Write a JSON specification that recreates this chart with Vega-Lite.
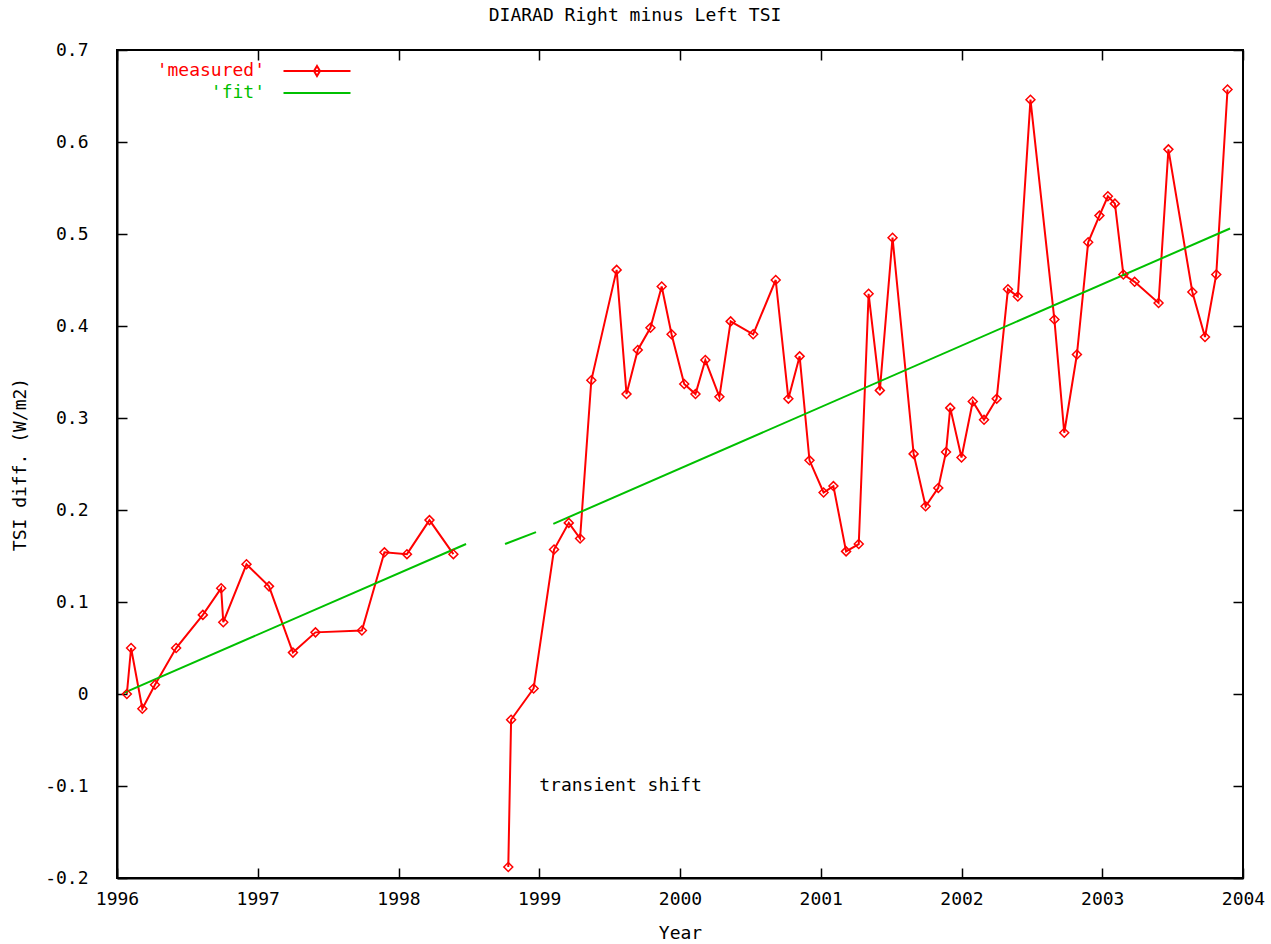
{
  "$schema": "https://vega.github.io/schema/vega-lite/v6.json",
  "width": 1126,
  "height": 828,
  "autosize": {"type": "none"},
  "padding": {"left": 117, "top": 50, "right": 28, "bottom": 66},
  "background": "white",
  "title": {"text": "DIARAD Right minus Left TSI", "font": "DejaVu Sans Mono", "fontSize": 18, "fontWeight": "normal", "color": "black", "anchor": "middle", "dx": -45, "offset": 16},
  "config": {
    "view": {"stroke": "black", "strokeWidth": 2},
    "axis": {"labelFont": "DejaVu Sans Mono", "labelFontSize": 18, "labelColor": "black", "titleFont": "DejaVu Sans Mono", "titleFontSize": 18, "titleFontWeight": "normal", "titleColor": "black", "domainColor": "black", "domainWidth": 2, "tickColor": "black", "tickWidth": 1.5, "grid": false}
  },
  "datasets": {
    "main": [
      {"year": 1996.07, "value": 0.000, "series": "'measured'", "seg": "m1"},
      {"year": 1996.10, "value": 0.050, "series": "'measured'", "seg": "m1"},
      {"year": 1996.18, "value": -0.016, "series": "'measured'", "seg": "m1"},
      {"year": 1996.27, "value": 0.010, "series": "'measured'", "seg": "m1"},
      {"year": 1996.42, "value": 0.050, "series": "'measured'", "seg": "m1"},
      {"year": 1996.61, "value": 0.086, "series": "'measured'", "seg": "m1"},
      {"year": 1996.74, "value": 0.115, "series": "'measured'", "seg": "m1"},
      {"year": 1996.755, "value": 0.078, "series": "'measured'", "seg": "m1"},
      {"year": 1996.92, "value": 0.141, "series": "'measured'", "seg": "m1"},
      {"year": 1997.08, "value": 0.117, "series": "'measured'", "seg": "m1"},
      {"year": 1997.25, "value": 0.045, "series": "'measured'", "seg": "m1"},
      {"year": 1997.41, "value": 0.067, "series": "'measured'", "seg": "m1"},
      {"year": 1997.74, "value": 0.069, "series": "'measured'", "seg": "m1"},
      {"year": 1997.90, "value": 0.154, "series": "'measured'", "seg": "m1"},
      {"year": 1998.06, "value": 0.152, "series": "'measured'", "seg": "m1"},
      {"year": 1998.22, "value": 0.189, "series": "'measured'", "seg": "m1"},
      {"year": 1998.39, "value": 0.152, "series": "'measured'", "seg": "m1"},
      {"year": 1998.78, "value": -0.188, "series": "'measured'", "seg": "m2"},
      {"year": 1998.80, "value": -0.028, "series": "'measured'", "seg": "m2"},
      {"year": 1998.96, "value": 0.006, "series": "'measured'", "seg": "m2"},
      {"year": 1999.105, "value": 0.157, "series": "'measured'", "seg": "m2"},
      {"year": 1999.21, "value": 0.186, "series": "'measured'", "seg": "m2"},
      {"year": 1999.29, "value": 0.169, "series": "'measured'", "seg": "m2"},
      {"year": 1999.37, "value": 0.341, "series": "'measured'", "seg": "m2"},
      {"year": 1999.55, "value": 0.461, "series": "'measured'", "seg": "m2"},
      {"year": 1999.62, "value": 0.326, "series": "'measured'", "seg": "m2"},
      {"year": 1999.70, "value": 0.374, "series": "'measured'", "seg": "m2"},
      {"year": 1999.79, "value": 0.398, "series": "'measured'", "seg": "m2"},
      {"year": 1999.87, "value": 0.443, "series": "'measured'", "seg": "m2"},
      {"year": 1999.94, "value": 0.391, "series": "'measured'", "seg": "m2"},
      {"year": 2000.03, "value": 0.337, "series": "'measured'", "seg": "m2"},
      {"year": 2000.11, "value": 0.326, "series": "'measured'", "seg": "m2"},
      {"year": 2000.18, "value": 0.363, "series": "'measured'", "seg": "m2"},
      {"year": 2000.28, "value": 0.323, "series": "'measured'", "seg": "m2"},
      {"year": 2000.36, "value": 0.405, "series": "'measured'", "seg": "m2"},
      {"year": 2000.52, "value": 0.391, "series": "'measured'", "seg": "m2"},
      {"year": 2000.68, "value": 0.450, "series": "'measured'", "seg": "m2"},
      {"year": 2000.77, "value": 0.321, "series": "'measured'", "seg": "m2"},
      {"year": 2000.85, "value": 0.367, "series": "'measured'", "seg": "m2"},
      {"year": 2000.92, "value": 0.254, "series": "'measured'", "seg": "m2"},
      {"year": 2001.02, "value": 0.219, "series": "'measured'", "seg": "m2"},
      {"year": 2001.09, "value": 0.226, "series": "'measured'", "seg": "m2"},
      {"year": 2001.18, "value": 0.155, "series": "'measured'", "seg": "m2"},
      {"year": 2001.27, "value": 0.163, "series": "'measured'", "seg": "m2"},
      {"year": 2001.34, "value": 0.435, "series": "'measured'", "seg": "m2"},
      {"year": 2001.42, "value": 0.330, "series": "'measured'", "seg": "m2"},
      {"year": 2001.51, "value": 0.496, "series": "'measured'", "seg": "m2"},
      {"year": 2001.66, "value": 0.261, "series": "'measured'", "seg": "m2"},
      {"year": 2001.745, "value": 0.204, "series": "'measured'", "seg": "m2"},
      {"year": 2001.835, "value": 0.224, "series": "'measured'", "seg": "m2"},
      {"year": 2001.89, "value": 0.263, "series": "'measured'", "seg": "m2"},
      {"year": 2001.92, "value": 0.311, "series": "'measured'", "seg": "m2"},
      {"year": 2002.00, "value": 0.257, "series": "'measured'", "seg": "m2"},
      {"year": 2002.08, "value": 0.318, "series": "'measured'", "seg": "m2"},
      {"year": 2002.16, "value": 0.298, "series": "'measured'", "seg": "m2"},
      {"year": 2002.25, "value": 0.321, "series": "'measured'", "seg": "m2"},
      {"year": 2002.33, "value": 0.440, "series": "'measured'", "seg": "m2"},
      {"year": 2002.40, "value": 0.432, "series": "'measured'", "seg": "m2"},
      {"year": 2002.49, "value": 0.646, "series": "'measured'", "seg": "m2"},
      {"year": 2002.66, "value": 0.407, "series": "'measured'", "seg": "m2"},
      {"year": 2002.73, "value": 0.284, "series": "'measured'", "seg": "m2"},
      {"year": 2002.82, "value": 0.369, "series": "'measured'", "seg": "m2"},
      {"year": 2002.90, "value": 0.491, "series": "'measured'", "seg": "m2"},
      {"year": 2002.98, "value": 0.520, "series": "'measured'", "seg": "m2"},
      {"year": 2003.04, "value": 0.541, "series": "'measured'", "seg": "m2"},
      {"year": 2003.09, "value": 0.533, "series": "'measured'", "seg": "m2"},
      {"year": 2003.15, "value": 0.456, "series": "'measured'", "seg": "m2"},
      {"year": 2003.23, "value": 0.448, "series": "'measured'", "seg": "m2"},
      {"year": 2003.40, "value": 0.425, "series": "'measured'", "seg": "m2"},
      {"year": 2003.47, "value": 0.592, "series": "'measured'", "seg": "m2"},
      {"year": 2003.64, "value": 0.437, "series": "'measured'", "seg": "m2"},
      {"year": 2003.73, "value": 0.388, "series": "'measured'", "seg": "m2"},
      {"year": 2003.81, "value": 0.456, "series": "'measured'", "seg": "m2"},
      {"year": 2003.89, "value": 0.657, "series": "'measured'", "seg": "m2"},
      {"year": 1996.045, "value": 0.001, "series": "'fit'", "seg": "f1"},
      {"year": 1998.48, "value": 0.163, "series": "'fit'", "seg": "f1"},
      {"year": 1998.757, "value": 0.163, "series": "'fit'", "seg": "f2"},
      {"year": 1998.977, "value": 0.176, "series": "'fit'", "seg": "f2"},
      {"year": 1999.10, "value": 0.185, "series": "'fit'", "seg": "f3"},
      {"year": 2003.908, "value": 0.506, "series": "'fit'", "seg": "f3"}
    ],
    "notes": [
      {"year": 1999.0, "value": -0.1, "label": "transient shift"}
    ]
  },
  "resolve": {"axis": {"x": "independent", "y": "independent"}},
  "layer": [
    {
      "data": {"name": "main"},
      "mark": {"type": "line", "strokeWidth": 2, "clip": true},
      "encoding": {
        "x": {"field": "year", "type": "quantitative", "scale": {"domain": [1996, 2004], "nice": false, "zero": false},
          "axis": {"orient": "bottom", "title": "Year", "values": [1996, 1997, 1998, 1999, 2000, 2001, 2002, 2003, 2004], "format": "d", "ticks": false, "labelPadding": 12, "titleX": 563, "titleY": 55, "titleBaseline": "middle", "labelFlush": false}},
        "y": {"field": "value", "type": "quantitative", "scale": {"domain": [-0.2, 0.7], "nice": false, "zero": false},
          "axis": {"orient": "left", "title": "TSI diff. (W/m2)", "values": [-0.2, -0.1, 0, 0.1, 0.2, 0.3, 0.4, 0.5, 0.6, 0.7], "ticks": false, "labelPadding": 29, "labelExpr": "datum.value == 0 ? '0' : (datum.value < 0 ? '-' + format(-datum.value, '.1f') : format(datum.value, '.1f'))", "titleX": -97, "titleY": 414, "titleAngle": -90, "titleBaseline": "middle", "titleAlign": "center", "labelFlush": false}},
        "color": {"field": "series", "type": "nominal", "scale": {"domain": ["'measured'", "'fit'"], "range": ["#ff0000", "#00c000"]},
          "legend": {"orient": "none", "legendX": 148, "legendY": 12, "title": null, "padding": 0, "rowPadding": 4, "labelFont": "DejaVu Sans Mono", "labelFontSize": 18, "symbolSize": 100, "symbolStrokeWidth": 2,
            "encode": {
              "labels": {"update": {"x": {"value": 0}, "align": {"value": "right"}, "fill": {"signal": "datum.value === \"'measured'\" ? '#ff0000' : '#00c000'"}}},
              "symbols": {"update": {"x": {"value": 52}, "fill": {"value": "transparent"}, "shape": {"signal": "datum.value === \"'measured'\" ? 'M-6.7,0H6.7M0,-1L0.6,0L0,1L-0.6,0Z' : 'M-6.7,0H6.7'"}}}
            }}},
        "detail": {"field": "seg"}
      }
    },
    {
      "data": {"name": "main"},
      "transform": [{"filter": "datum.series === \"'measured'\""}],
      "mark": {"type": "point", "shape": "diamond", "filled": false, "color": "#ff0000", "size": 80, "strokeWidth": 1.5, "opacity": 1},
      "encoding": {
        "x": {"field": "year", "type": "quantitative", "scale": {"domain": [1996, 2004], "nice": false, "zero": false},
          "axis": {"orient": "top", "title": null, "labels": false, "domain": false, "values": [1996, 1997, 1998, 1999, 2000, 2001, 2002, 2003, 2004], "tickSize": 10, "offset": -10}},
        "y": {"field": "value", "type": "quantitative", "scale": {"domain": [-0.2, 0.7], "nice": false, "zero": false},
          "axis": {"orient": "right", "title": null, "labels": false, "domain": false, "values": [-0.2, -0.1, 0, 0.1, 0.2, 0.3, 0.4, 0.5, 0.6, 0.7], "tickSize": 10, "offset": -10}}
      }
    },
    {
      "data": {"name": "notes"},
      "mark": {"type": "text", "font": "DejaVu Sans Mono", "fontSize": 18, "align": "left", "baseline": "middle", "color": "black"},
      "encoding": {
        "x": {"field": "year", "type": "quantitative", "scale": {"domain": [1996, 2004], "nice": false, "zero": false},
          "axis": {"orient": "bottom", "title": null, "labels": false, "domain": false, "values": [1996, 1997, 1998, 1999, 2000, 2001, 2002, 2003, 2004], "tickSize": 10, "offset": -10}},
        "y": {"field": "value", "type": "quantitative", "scale": {"domain": [-0.2, 0.7], "nice": false, "zero": false},
          "axis": {"orient": "left", "title": null, "labels": false, "domain": false, "values": [-0.2, -0.1, 0, 0.1, 0.2, 0.3, 0.4, 0.5, 0.6, 0.7], "tickSize": 10, "offset": -10}},
        "text": {"field": "label"}
      }
    }
  ]
}
